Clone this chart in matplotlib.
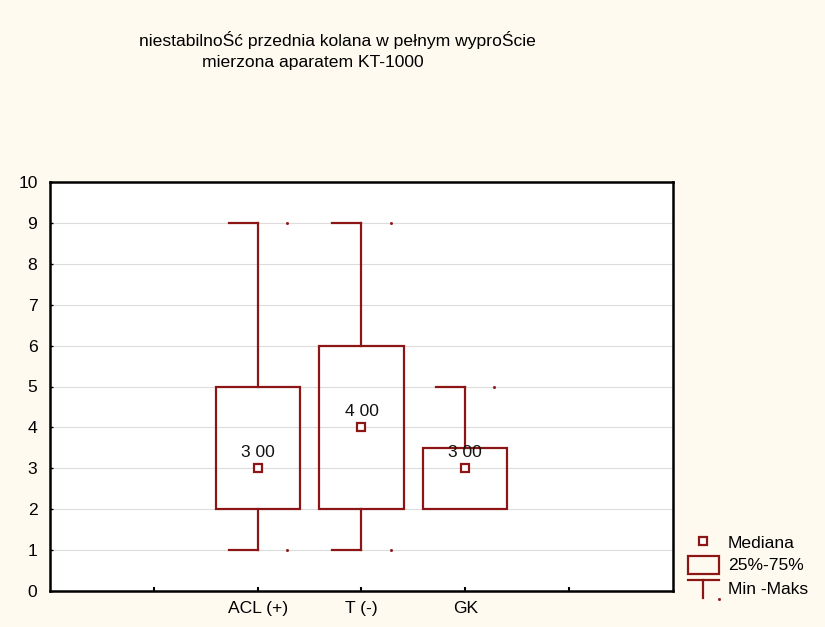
import matplotlib
matplotlib.use("Agg")
import matplotlib.pyplot as plt
from matplotlib.patches import Rectangle
from matplotlib.lines import Line2D

plt.rcParams['font.family'] = ['Liberation Sans', 'DejaVu Sans']

categories = ["ACL (+)", "T (-)", "GK"]
mins = [1, 1, 2]
q1s = [2, 2, 2]
medians = [3, 4, 3]
q3s = [5, 6, 3.5]
maxs = [9, 9, 5]
median_labels = ["3 00", "4 00", "3 00"]
positions = [2, 3, 4]

RED = '#8C1616'
BG = '#FEFAEF'
FS = 12.6

fig = plt.figure(figsize=(8.25, 6.27), dpi=100, facecolor=BG)
ax = fig.add_axes([50/825, 1-591/627, 623/825, 409/627])
ax.set_facecolor('white')
ax.set_xlim(0, 6)
ax.set_ylim(0, 10)

for y in range(1, 10):
    ax.axhline(y, color='#DCDCDC', lw=0.8, zorder=0)

bw = 0.81
cap = 0.28
for x, mn, a, m, b, mx, lab in zip(positions, mins, q1s, medians, q3s, maxs, median_labels):
    ax.bar(x, b - a, bottom=a, width=bw, fill=False, edgecolor=RED, lw=1.6, zorder=3)
    if mx > b:
        ax.plot([x, x], [b, mx], color=RED, lw=1.6, zorder=3)
        ax.plot([x - cap, x], [mx, mx], color=RED, lw=1.6, zorder=3)
        ax.plot([x + cap], [mx], marker='s', ms=1, color=RED, zorder=3)
    if mn < a:
        ax.plot([x, x], [mn, a], color=RED, lw=1.6, zorder=3)
        ax.plot([x - cap, x], [mn, mn], color=RED, lw=1.6, zorder=3)
        ax.plot([x + cap], [mn], marker='s', ms=1, color=RED, zorder=3)
    ax.plot([x], [m], marker='s', ms=6, mfc='white', mec=RED, mew=1.6, zorder=4)
    ax.text(x, m + 0.2, lab, ha='center', va='bottom', fontsize=FS, color='#111111', zorder=5)

ax.set_yticks(range(0, 11))
ax.set_yticklabels([str(i) for i in range(0, 11)], fontsize=FS)
ax.set_xticks([1, 2, 3, 4, 5])
ax.set_xticklabels([""] + categories + [""], fontsize=FS)
ax.tick_params(axis='both', direction='in', length=3, width=1.5, color='black')
ax.tick_params(axis='y', length=2, width=1)
ax.tick_params(axis='x', pad=7)
ax.tick_params(axis='y', pad=9)
for s in ax.spines.values():
    s.set_linewidth(1.8)
    s.set_color('black')

fig.text(337/825, 1-40/627, "niestabilnoŚć przednia kolana w pełnym wyproŚcie",
         ha='center', va='center', fontsize=FS)
fig.text(313/825, 1-63/627, "mierzona aparatem KT-1000",
         ha='center', va='center', fontsize=FS)

# legend drawn manually
def fx(px):
    return px / 825
def fy(py):
    return 1 - py / 627

fig.add_artist(Line2D([fx(703)], [fy(541)], marker='s', ms=6, mfc='white', mec=RED, mew=1.6,
                      transform=fig.transFigure))
fig.add_artist(Rectangle((fx(688), fy(574)), fx(719) - fx(688), fy(556) - fy(574), fill=False,
                         edgecolor=RED, lw=1.6, transform=fig.transFigure))
fig.add_artist(Line2D([fx(688), fx(719)], [fy(580), fy(580)], color=RED, lw=1.6,
                      transform=fig.transFigure))
fig.add_artist(Line2D([fx(703), fx(703)], [fy(580), fy(598)], color=RED, lw=1.6,
                      transform=fig.transFigure))
fig.add_artist(Line2D([fx(719)], [fy(599)], marker='s', ms=1, color=RED,
                      transform=fig.transFigure))
fig.text(fx(728), fy(543), "Mediana", ha='left', va='center', fontsize=FS)
fig.text(fx(728), fy(566), "25%-75%", ha='left', va='center', fontsize=FS)
fig.text(fx(728), fy(590), "Min -Maks", ha='left', va='center', fontsize=FS)

fig.savefig("out.png", dpi=100, facecolor=BG)
